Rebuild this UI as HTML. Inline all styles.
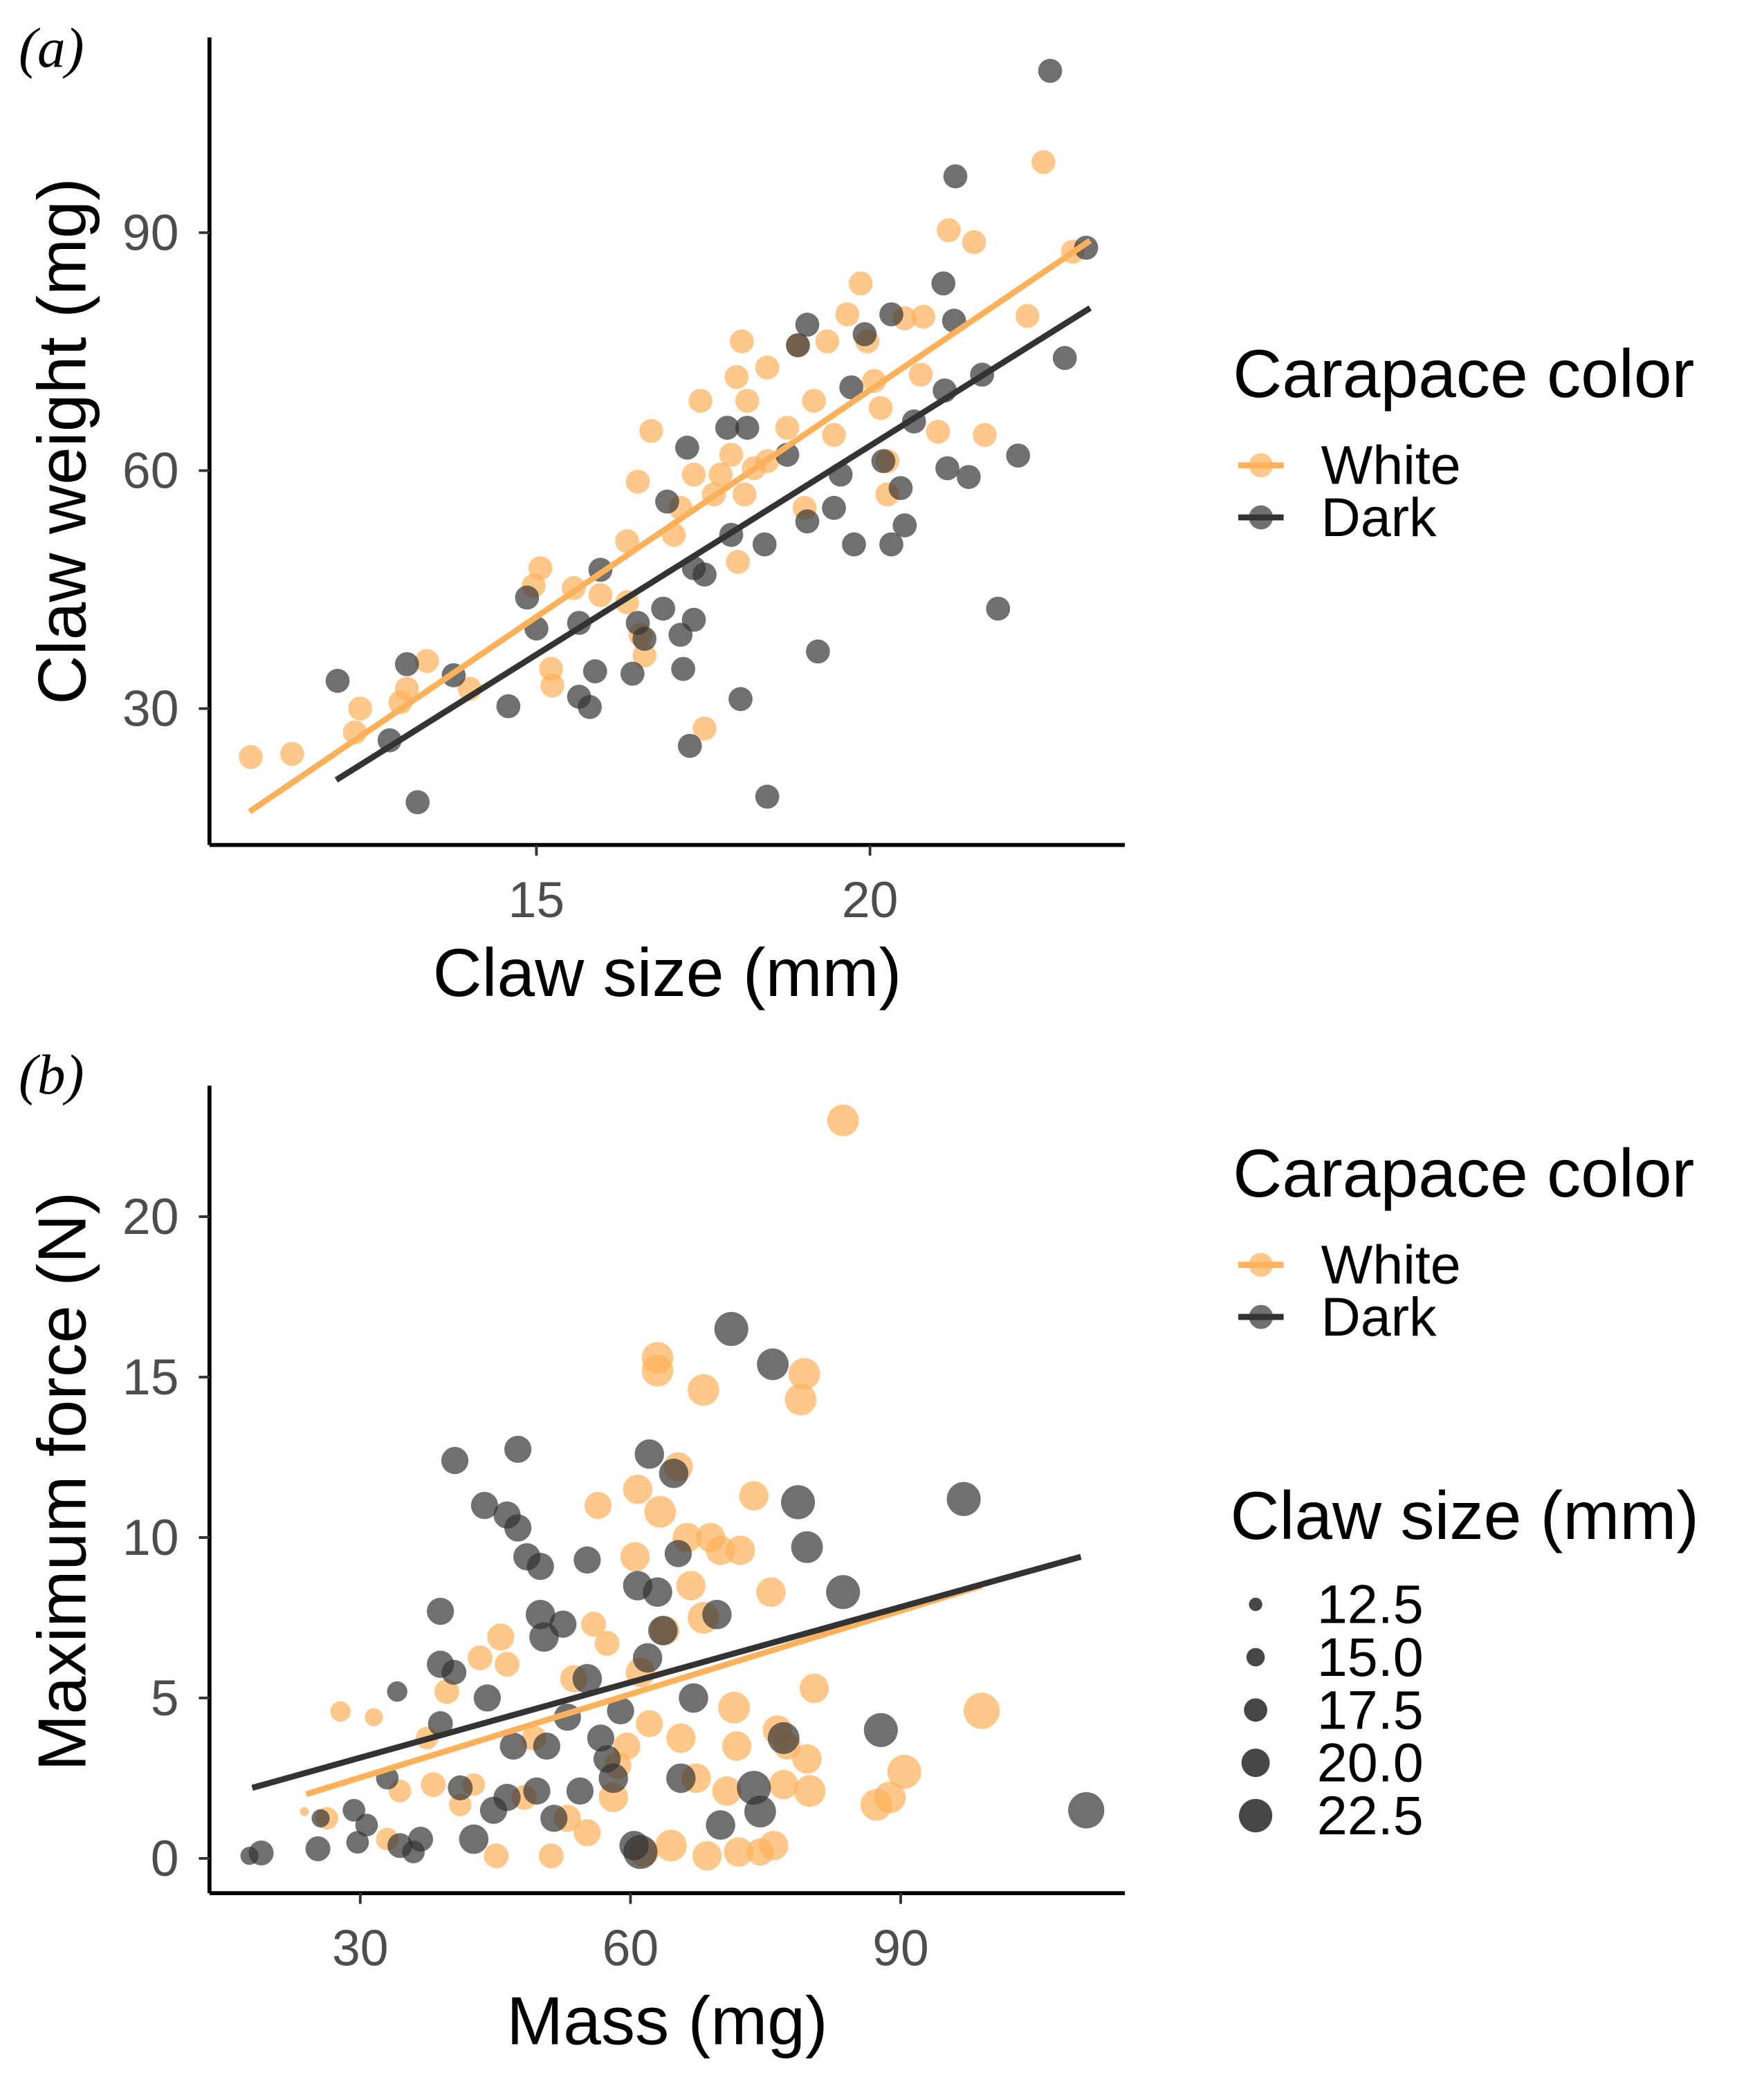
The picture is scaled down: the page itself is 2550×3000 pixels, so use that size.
<!DOCTYPE html>
<html><head><meta charset="utf-8">
<style>
html,body{margin:0;padding:0;background:#fff;}
svg{display:block;}
text{font-family:"Liberation Sans",sans-serif;}
text.serif{font-family:"Liberation Serif",serif;}
</style></head>
<body>
<svg id="chart" width="2550" height="3000" viewBox="0 0 1322 1552" preserveAspectRatio="none" xmlns="http://www.w3.org/2000/svg">
<rect width="1322" height="1552" fill="#fff"/>
<g id="pa"></g>
<g id="pb"></g>
</svg>
<script>
// ---------- Panel (a) data ----------
const aWhiteX=[10.72,11.34,12.36,12.28,12.96,13.06,13.36,14.0,14.96,15.06,15.22,15.24,15.56,15.96,16.36,16.52,16.72,16.56,16.62,17.06,17.16,17.36,17.46,17.52,17.66,17.76,17.92,18.0,18.08,18.02,18.12,18.26,18.46,18.76,18.92,19.02,19.16,19.36,19.46,19.66,19.86,19.96,20.06,20.16,20.26,20.52,20.76,20.8,21.02,21.18,21.56,21.72,22.36,22.6,23.04,20.26,18.16,18.46,16.36];
const aWhiteY=[23.9,24.3,30,27,30.8,32.5,36,32.5,45.5,47.7,35,32.9,45.2,44.3,51.1,58.6,65,39.3,36.7,51.9,55.3,59.5,68.8,27.5,57,59.5,62,71.8,76.3,48.5,57,60.3,61.2,65.4,75.8,55.3,68.8,76.3,64.5,79.7,83.6,76.3,71.3,67.9,61.2,79.2,72.1,79.4,64.9,90.3,88.8,64.5,79.5,98.9,87.6,57,68.8,73,43.4];
const aDarkX=[12.02,12.8,13.06,13.22,13.76,14.58,14.86,15,15.64,15.64,15.8,15.88,15.96,16.44,16.52,16.62,16.9,16.96,17.16,17.2,17.26,17.3,17.36,17.52,17.92,18.06,18.42,18.46,18.16,18.76,18.92,19.06,19.06,19.22,19.46,19.56,19.72,19.76,19.92,20.2,20.32,20.32,20.46,20.52,20.66,21.1,21.12,21.16,21.28,21.26,21.48,21.68,21.92,22.22,22.7,22.92,23.24,17.36,17.86];
const aDarkY=[33.5,26,35.6,18.2,34.2,30.3,44,40.1,40.8,31.5,30.2,34.7,47.5,34.4,40.8,38.8,42.6,56.1,39.3,35,62.9,25.3,47.7,46.9,51.9,31.2,50.7,18.9,65.4,62,75.8,78.4,53.6,37.2,55.3,59.5,70.5,50.7,77.2,61.2,50.7,79.7,57.8,53.1,66.2,83.6,70.1,60.3,97.1,78.9,59.2,72.1,42.6,61.9,110.4,74.2,88.1,41.2,65.4];
const aWhiteFit=[[10.7,17],[23.3,89]];
const aDarkFit=[[12,21],[23.3,80.5]];
const aXTicks=[15,20];
const aYTicks=[30,60,90];

// ---------- Panel (b) data ----------
const bWhiteMass=[23.8,27.8,31.5,33,26.3,34.4,37.4,38.1,39.6,41.1,42.6,43.3,45.1,45.6,46.3,48.2,49.3,51.2,53,53.7,55.2,55.9,56.4,57.4,58.1,58.6,59.6,60.5,60.8,61.1,61.5,62.1,63,63,63.3,63.8,64.5,65.3,65.6,66.3,66.7,67.3,68.1,68.1,68.5,68.9,70,70.7,71.5,71.8,72,72.2,73.7,74.4,75.6,75.9,76.3,77,78.9,79.3,79.6,79.9,80.4,83.6,87.3,88.8,90.4,99,77.4];
const bWhiteForce=[1.46,4.58,4.4,0.6,1.25,2.1,3.75,2.3,5.2,1.67,2.3,6.25,0.08,6.9,6.05,1.9,3.75,0.08,1.25,5.6,0.8,7.3,11,6.7,1.9,2.9,3.5,9.4,11.5,5.8,0.2,4.2,15.6,15.2,10.8,7.1,0.4,12.2,3.75,10,8.5,2.5,14.6,7.5,0.08,10,9.6,2.1,4.7,3.5,0.2,9.6,11.3,0.2,8.3,0.4,4,2.3,14.3,15.1,3.1,2.1,5.3,23,1.67,1.9,2.7,4.6,3.5];
const bWhiteSize=[10,15,14,16,16,16,16,17,17,16,16,17,17,18,17,17,17,17,18,18,18,17,18,17,19,18,18,19,19,19,19,18,20,20,20,19,20,19,19,19,19,19,20,20,19,19,19,19,20,19,19,19,19,18,19,19,19,19,20,20,19,20,19,20,20,20,21,22,18];
const bDarkMass=[17.7,19,25.3,25.6,29.3,29.7,30.7,33,34.1,34.4,35.9,36.7,38.9,38.9,38.9,40.4,40.5,41.1,42.6,43.8,44.1,44.8,46.3,46.3,47,47.5,47.5,48.5,49.6,50,50,50.4,50.7,51.5,52.5,53,54.4,55.2,55.2,56.7,57.4,58.1,58.9,60.8,61.9,62.1,61.1,60.4,63,63.6,64.8,65.3,65.6,67,69.6,70,71.2,73.7,74.4,75.8,77,78.6,79.6,83.6,87.8,97,110.6];
const bDarkForce=[0.08,0.17,0.3,1.25,1.5,0.5,1.04,2.5,5.2,0.4,0.2,0.6,4.2,7.7,6.05,5.8,12.4,2.2,0.6,11,5,1.5,1.9,10.7,3.5,12.75,10.3,9.4,2.1,9.1,7.6,6.9,3.5,1.25,7.3,4.4,2.1,9.3,5.6,3.75,3.1,2.5,4.6,8.5,6.25,12.6,0.2,0.4,8.3,7.1,12,9.5,2.5,5,7.6,1.04,16.5,2.2,1.46,15.4,3.75,11.1,9.7,8.3,4,11.2,1.5];
const bDarkSize=[14,17,17,14,16,16,16,16,15,17,16,17,17,18,18,17,18,17,19,18,18,18,18,18,18,18,18,18,18,18,19,19,18,18,18,18,18,18,19,18,18,19,18,19,19,19,21,19,19,19,19,18,19,19,19,19,21,21,20,20,20,21,20,21,21,21,22];
const bWhiteFit=[[24,2],[99,8.5]];
const bDarkFit=[[18,2.2],[110,9.4]];
const bXTicks=[30,60,90];
const bYTicks=[0,5,10,15,20];
const sizeLegend=[12.5,15.0,17.5,20.0,22.5];

const NS="http://www.w3.org/2000/svg";
const ORANGE="#FDB15A", DARK="#333333", GRAY="#4d4d4d";
function mk(parent,tag,attrs,txt){const e=document.createElementNS(NS,tag);for(const k in attrs)e.setAttribute(k,attrs[k]);if(txt!==undefined)e.textContent=txt;parent.appendChild(e);return e;}

const axA={x:v=>402+(v-15)*50, y:v=>352-(v-60)*5.933};
const axB={x:v=>270+(v-30)*6.75, y:v=>1390-v*24};
const rScale=s=>5.5+(s-12.5)*0.85;

function drawAxes(g,ax,x0,x1,y0,y1,xt,yt,xlab,ylab,ylabY,tag){
  const xl=mk(g,'line',{x1:x0,y1:y1,x2:x1,y2:y1,stroke:'#000','stroke-width':3});
  
  
  const yl=mk(g,'line',{x1:x0,y1:y0,x2:x0,y2:y1,stroke:'#000','stroke-width':3});
  
  
  xt.forEach(v=>{
    const t=mk(g,'line',{x1:ax.x(v),x2:ax.x(v),y1:y1,y2:y1+8,stroke:'#333','stroke-width':2});
    
    
    const l=mk(g,'text',{x:ax.x(v),y:y1+54,'text-anchor':'middle','font-size':38,fill:GRAY},String(v));
    
    
  });
  yt.forEach(v=>{
    const t=mk(g,'line',{x1:x0-8,x2:x0,y1:ax.y(v),y2:ax.y(v),stroke:'#333','stroke-width':2});
    
    
    const l=mk(g,'text',{x:x0-23,y:ax.y(v)+13,'text-anchor':'end','font-size':38,fill:GRAY},String(v));
    
    
  });
  const xtl=mk(g,'text',{x:(x0+x1)/2,y:y1+113,'text-anchor':'middle','font-size':51,fill:'#000'},xlab);
  
  
  const ytl=mk(g,'text',{x:0,y:0,'text-anchor':'middle','font-size':51,fill:'#000',transform:`translate(64,${ylabY}) rotate(-90)`},ylab);
  
  
  const pl=mk(g,'text',{x:14,y:tag==='(a)'?50:818,'font-size':42,'font-style':'italic',fill:'#000','class':'serif'},tag);
  
  
}
function pts(g,ax,xs,ys,col,name,sizes){
  xs.forEach((x,i)=>{
    const r=sizes?rScale(sizes[i]):9;
    const c=mk(g,'circle',{cx:ax.x(x),cy:ax.y(ys[i]),r:r,fill:col,'fill-opacity':0.7});
    
    
  });
}
function fit(g,ax,f,col,name){
  const l=mk(g,'line',{x1:ax.x(f[0][0]),y1:ax.y(f[0][1]),x2:ax.x(f[1][0]),y2:ax.y(f[1][1]),stroke:col,'stroke-width':4.5});
  
  
}
function colorLegend(g,ty){
  const t=mk(g,'text',{x:924,y:ty,'font-size':51,fill:'#000'},'Carapace color');
  
  
  [['White',ORANGE,ty+65],['Dark',DARK,ty+104]].forEach(([lab,col,y])=>{
    const k=mk(g,'line',{x1:928,x2:962,y1:y-14,y2:y-14,stroke:col,'stroke-width':4.5});
    
    
    const c=mk(g,'circle',{cx:945,cy:y-14,r:9,fill:col,'fill-opacity':0.7});
    
    
    const tx=mk(g,'text',{x:990,y:y,'font-size':41,fill:'#000'},lab);
    
    
  });
}

const ga=document.getElementById('pa');
drawAxes(ga,axA,157,843,28,632,aXTicks,aYTicks,'Claw size (mm)','Claw weight (mg)',330,'(a)');
pts(ga,axA,aWhiteX,aWhiteY,ORANGE,'point-white');
pts(ga,axA,aDarkX,aDarkY,DARK,'point-dark');
fit(ga,axA,aWhiteFit,ORANGE,'fit-line-white');
fit(ga,axA,aDarkFit,DARK,'fit-line-dark');
colorLegend(ga,297);

const gb=document.getElementById('pb');
drawAxes(gb,axB,157,843,812,1416,bXTicks,bYTicks,'Mass (mg)','Maximum force (N)',1108,'(b)');
pts(gb,axB,bWhiteMass,bWhiteForce,ORANGE,'point-white',bWhiteSize);
pts(gb,axB,bDarkMass,bDarkForce,DARK,'point-dark',bDarkSize);
fit(gb,axB,bWhiteFit,ORANGE,'fit-line-white');
fit(gb,axB,bDarkFit,DARK,'fit-line-dark');
colorLegend(gb,895);
const st=mk(gb,'text',{x:922,y:1151,'font-size':51,fill:'#000'},'Claw size (mm)');


sizeLegend.forEach((s,i)=>{
  const y=1200+i*39.5;
  const c=mk(gb,'circle',{cx:941,cy:y,r:5+(s-12.5)*0.75,fill:DARK,'fill-opacity':0.9});
  
  
  const t=mk(gb,'text',{x:987,y:y+14,'font-size':41,fill:'#000'},s.toFixed(1));
  
  
});
</script>
</body></html>
